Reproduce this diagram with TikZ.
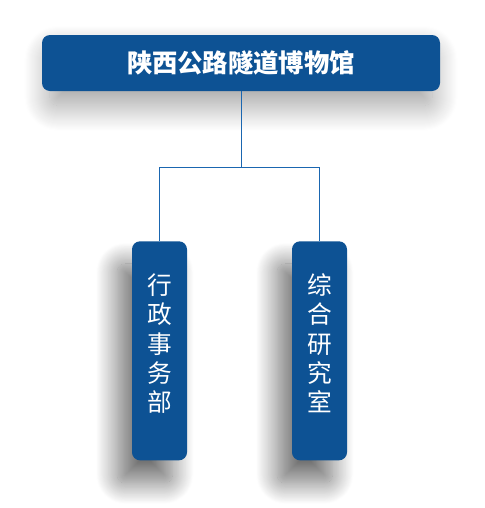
\documentclass[tikz,border=0pt]{standalone}
\usepackage{fontspec}
\newfontfamily\cjk{Noto Sans CJK SC}
\usetikzlibrary{shadows.blur}
\definecolor{boxblue}{HTML}{0D5294}
\definecolor{lineblue}{HTML}{1A66B0}

\begin{document}
\begin{tikzpicture}[x=0.75pt,y=-0.75pt,
  box/.style={fill=boxblue, rounded corners=6pt, text=white, inner sep=0pt},
  headbox/.style={box, minimum width=298.5pt, minimum height=42pt,
    font=\cjk\bfseries\fontsize{19}{23}\selectfont,
    blur shadow={shadow xshift=0pt, shadow yshift=-12pt, shadow blur radius=20pt,
      shadow opacity=38, shadow scale=0.96, shadow blur steps=25}},
  deptbox/.style={box, minimum width=41.25pt, minimum height=164.25pt, align=center,
    text depth=12pt, font=\cjk\fontsize{18.5}{22}\selectfont,
    blur shadow={shadow xshift=-11pt, shadow yshift=-17pt, shadow blur radius=16pt,
      shadow opacity=55, shadow blur steps=25}},
  link/.style={draw=lineblue, line width=0.75pt}]

  \useasboundingbox (0,0) rectangle (485,508);

  %draw boxes
  \node[headbox] (museum) at (241,63) {陕西公路隧道博物馆};
  \node[deptbox] (admin) at (159.5,350.8) {行\\政\\事\\务\\部};
  \node[deptbox] (research) at (319.5,350.8) {综\\合\\研\\究\\室};

  %draw connectors
  \coordinate (split) at (241,167.5);
  \draw[link] (museum) -- (split);
  \draw[link] (admin.north) |- (split) -| (research.north);

\end{tikzpicture}
\end{document}
